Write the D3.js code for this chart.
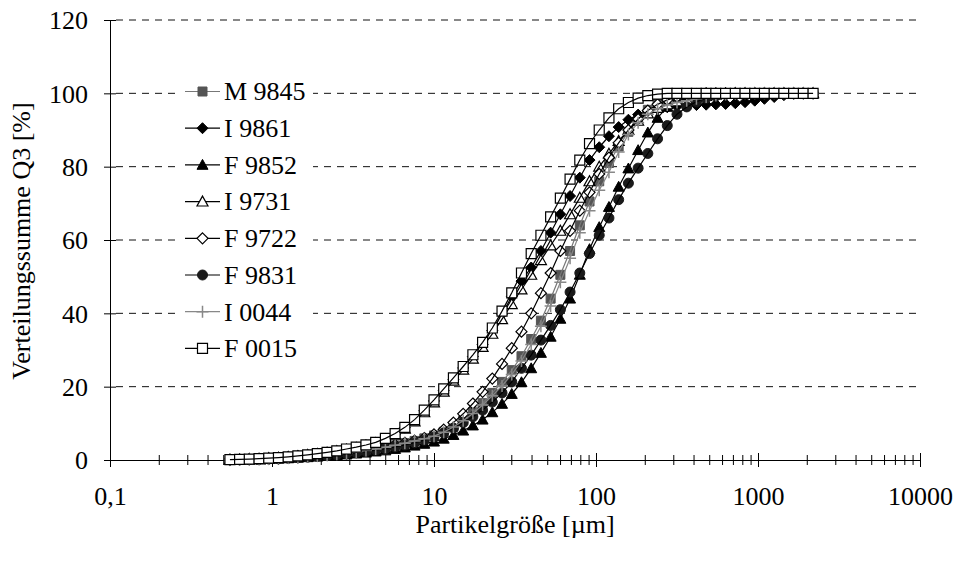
<!DOCTYPE html>
<html>
<head>
<meta charset="utf-8">
<script src="https://cdn.jsdelivr.net/npm/d3@7/dist/d3.min.js"></script>
<style>
  body { margin: 0; background: #fff; }
  svg text { font-family: "Liberation Serif", "Times New Roman", serif; font-size: 26px; fill: #000; }
</style>
</head>
<body>
<div id="chart"></div>
<script>
// particle size classes [µm]
var sizes = [0.550, 0.631, 0.724, 0.832, 0.955, 1.096, 1.259, 1.445, 1.660, 1.905,
  2.188, 2.512, 2.884, 3.311, 3.802, 4.365, 5.012, 5.754, 6.607, 7.586,
  8.710, 10.00, 11.48, 13.18, 15.14, 17.38, 19.95, 22.91, 26.30, 30.20,
  34.67, 39.81, 45.71, 52.48, 60.26, 69.18, 79.43, 91.20, 104.7, 120.2,
  138.0, 158.5, 182.0, 208.9, 239.9, 275.4, 316.2, 363.1, 416.9, 478.6,
  549.5, 631.0, 724.4, 831.8, 955.0, 1096, 1259, 1445, 1660, 1905, 2188];

var seriesNames = ["M 9845", "I 9861", "F 9852", "I 9731", "F 9722", "F 9831", "I 0044", "F 0015"];

var qM9845 = [0.05, 0.1, 0.15, 0.2, 0.3, 0.4, 0.55, 0.7, 0.9, 1.1,
  1.35, 1.6, 1.9, 2.2, 2.6, 3.0, 3.5, 4.0, 4.6, 5.2,
  5.9, 6.7, 7.7, 9.0, 10.8, 13.0, 15.5, 18.3, 21.3, 24.5,
  28.3, 33.0, 38.0, 44.0, 50.5, 57.0, 64.0, 70.5, 76.0, 81.0,
  85.5, 89.5, 93.0, 95.5, 97.3, 98.5, 99.3, 99.7, 100, 100,
  100, 100, 100, 100, 100, 100, 100, 100, 100, 100, 100];
var qI9861 = [0.1, 0.15, 0.25, 0.35, 0.5, 0.65, 0.85, 1.1, 1.4, 1.7,
  2.0, 2.4, 2.9, 3.4, 4.0, 4.7, 5.8, 7.1, 8.8, 10.9,
  13.4, 16.1, 19.0, 22.0, 25.1, 28.2, 31.5, 35.3, 39.8, 44.6,
  48.8, 52.5, 57.0, 62.0, 67.0, 72.0, 77.0, 81.8, 85.3, 88.3,
  90.8, 92.8, 94.2, 95.2, 95.8, 96.2, 96.5, 96.7, 96.8, 96.9,
  97.0, 97.1, 97.3, 97.6, 98.0, 98.5, 99.0, 99.5, 99.9, 100, 100];
var qF9852 = [0.04, 0.08, 0.12, 0.17, 0.25, 0.35, 0.45, 0.6, 0.75, 0.9,
  1.1, 1.3, 1.5, 1.75, 2.0, 2.3, 2.6, 3.0, 3.4, 3.9,
  4.4, 5.0, 5.8, 6.8, 8.0, 9.4, 11.0, 13.0, 15.3, 18.0,
  21.2, 25.0, 29.2, 33.6, 38.5, 44.0, 50.5, 57.5, 63.5, 69.0,
  74.5, 79.5, 84.5, 89.3, 93.3, 96.3, 98.2, 99.2, 99.7, 100,
  100, 100, 100, 100, 100, 100, 100, 100, 100, 100, 100];
var qI9731 = [0.1, 0.15, 0.25, 0.35, 0.45, 0.6, 0.8, 1.05, 1.35, 1.65,
  2.0, 2.4, 2.8, 3.3, 3.9, 4.6, 5.6, 6.9, 8.5, 10.5,
  13.0, 15.7, 18.6, 21.6, 24.6, 27.6, 30.8, 34.4, 38.4, 42.5,
  46.5, 50.5, 54.5, 58.5, 62.5, 67.0, 71.5, 76.0, 80.0, 83.5,
  87.0, 90.0, 92.5, 94.5, 96.0, 97.0, 97.8, 98.4, 98.9, 99.3,
  99.6, 99.9, 100, 100, 100, 100, 100, 100, 100, 100, 100];
var qF9722 = [0.05, 0.1, 0.15, 0.2, 0.3, 0.4, 0.55, 0.7, 0.9, 1.1,
  1.35, 1.6, 1.9, 2.25, 2.65, 3.1, 3.6, 4.1, 4.7, 5.3,
  6.0, 7.0, 8.3, 10.2, 12.6, 15.4, 18.6, 22.2, 26.2, 30.5,
  35.0, 40.0, 45.5, 51.0, 57.0, 62.5, 68.0, 73.0, 78.0, 82.5,
  86.5, 90.0, 93.0, 95.3, 97.0, 98.2, 99.0, 99.5, 99.8, 100,
  100, 100, 100, 100, 100, 100, 100, 100, 100, 100, 100];
var qF9831 = [0.05, 0.1, 0.15, 0.2, 0.3, 0.4, 0.5, 0.65, 0.8, 1.0,
  1.2, 1.45, 1.7, 2.0, 2.3, 2.7, 3.1, 3.6, 4.1, 4.7,
  5.4, 6.3, 7.4, 8.7, 10.2, 11.8, 13.6, 15.8, 18.3, 21.3,
  25.0, 28.6, 32.7, 36.7, 41.0, 45.8, 51.0, 56.3, 61.3, 66.0,
  71.0, 75.5, 79.6, 83.6, 87.6, 91.2, 94.3, 96.3, 97.7, 98.7,
  99.3, 99.7, 100, 100, 100, 100, 100, 100, 100, 100, 100];
var qI0044 = [0.05, 0.1, 0.15, 0.2, 0.3, 0.4, 0.55, 0.7, 0.9, 1.1,
  1.35, 1.6, 1.9, 2.2, 2.6, 3.0, 3.5, 4.0, 4.6, 5.2,
  5.8, 6.5, 7.6, 9.0, 10.7, 12.7, 15.0, 17.5, 20.2, 23.3,
  27.0, 31.5, 36.5, 42.0, 48.5, 55.0, 62.0, 68.0, 73.6, 78.5,
  84.0, 88.8, 92.0, 94.3, 95.8, 96.8, 97.5, 98.0, 98.5, 99.0,
  99.4, 99.7, 99.9, 100, 100, 100, 100, 100, 100, 100, 100];
var qF0015 = [0.1, 0.15, 0.25, 0.35, 0.5, 0.65, 0.85, 1.1, 1.4, 1.75,
  2.1, 2.5, 3.0, 3.5, 4.1, 4.8, 5.9, 7.2, 8.9, 11.0,
  13.6, 16.4, 19.4, 22.4, 25.5, 28.7, 32.1, 36.0, 40.6, 45.6,
  51.0, 56.3, 61.3, 66.3, 71.4, 76.6, 81.8, 86.3, 90.0, 93.3,
  95.8, 97.5, 98.7, 99.4, 99.8, 100, 100, 100, 100, 100,
  100, 100, 100, 100, 100, 100, 100, 100, 100, 100, 100];

var xTickValues = [0.1, 1, 10, 100, 1000, 10000];
var xTickLabels = ["0,1", "1", "10", "100", "1000", "10000"];
var yTickValues = [0, 20, 40, 60, 80, 100, 120];

(function () {
  var width = 957, height = 563;
  var margin = { left: 110, right: 920, top: 20, bottom: 460 };

  var svg = d3.select("#chart").append("svg")
    .attr("width", width)
    .attr("height", height);

  var x = d3.scaleLog().domain([0.1, 10000]).range([margin.left, margin.right]);
  var y = d3.scaleLinear().domain([0, 120]).range([margin.bottom, margin.top]);

  // marker shapes
  var markers = {
    square: function (s) { return "M" + (-s) + "," + (-s) + "h" + (2 * s) + "v" + (2 * s) + "h" + (-2 * s) + "z"; },
    diamond: function (s) { return "M0," + (-s) + "L" + s + ",0L0," + s + "L" + (-s) + ",0Z"; },
    triangle: function (s) { return "M0," + (-s) + "L" + s + "," + (s * 0.8) + "L" + (-s) + "," + (s * 0.8) + "Z"; },
    circle: function (s) { return d3.symbol().type(d3.symbolCircle).size(Math.PI * s * s)(); },
    plus: function (s) { return "M" + (-s) + ",0H" + s + "M0," + (-s) + "V" + s; }
  };

  var series = [
    { name: seriesNames[0], values: qM9845, shape: "square", size: 4.5, fill: "#555", stroke: "#555", sw: 1, line: "#777" },
    { name: seriesNames[1], values: qI9861, shape: "diamond", size: 5.5, fill: "#000", stroke: "#000", sw: 1, line: "#000" },
    { name: seriesNames[2], values: qF9852, shape: "triangle", size: 5.5, fill: "#000", stroke: "#000", sw: 1, line: "#000" },
    { name: seriesNames[3], values: qI9731, shape: "triangle", size: 5.5, fill: "#fff", stroke: "#000", sw: 1.2, line: "#000" },
    { name: seriesNames[4], values: qF9722, shape: "diamond", size: 5.5, fill: "#fff", stroke: "#000", sw: 1.2, line: "#000" },
    { name: seriesNames[5], values: qF9831, shape: "circle", size: 5, fill: "#1a1a1a", stroke: "#1a1a1a", sw: 1, line: "#000" },
    { name: seriesNames[6], values: qI0044, shape: "plus", size: 6, fill: "none", stroke: "#888", sw: 1.5, line: "#888" },
    { name: seriesNames[7], values: qF0015, shape: "square", size: 5, fill: "#fff", stroke: "#000", sw: 1.2, line: "#000" }
  ];

  // gridlines
  svg.append("g")
    .selectAll("line")
    .data(yTickValues.filter(function (v) { return v > 0; }))
    .enter().append("line")
    .attr("x1", margin.left + 6).attr("x2", margin.right)
    .attr("y1", function (d) { return y(d); })
    .attr("y2", function (d) { return y(d); })
    .attr("stroke", "#111")
    .attr("stroke-width", 1)
    .attr("stroke-dasharray", "7,6");

  // y axis
  var yAxis = svg.append("g")
    .attr("transform", "translate(" + margin.left + ",0)")
    .call(d3.axisLeft(y).tickValues(yTickValues).tickSize(6).tickPadding(16).tickFormat(d3.format("d")));
  yAxis.select(".domain").attr("stroke", "#000");
  yAxis.selectAll(".tick line").attr("x1", 6).attr("stroke", "#000");
  yAxis.selectAll(".tick text").attr("font-size", 26).attr("font-family", null).attr("dy", "0.34em");

  // x axis: minor ticks
  var minor = [];
  for (var p = -1; p < 4; p++) {
    for (var m = 2; m <= 9; m++) minor.push(m * Math.pow(10, p));
  }
  var xMinor = svg.append("g")
    .attr("transform", "translate(0," + margin.bottom + ")")
    .call(d3.axisBottom(x).tickValues(minor).tickSize(6).tickFormat(""));
  xMinor.select(".domain").remove();
  xMinor.selectAll(".tick line").attr("y1", -5).attr("y2", 5).attr("stroke", "#000");

  var xAxis = svg.append("g")
    .attr("transform", "translate(0," + margin.bottom + ")")
    .call(d3.axisBottom(x).tickValues(xTickValues).tickSize(7).tickPadding(20)
      .tickFormat(function (d, i) { return xTickLabels[i]; }));
  xAxis.select(".domain").attr("stroke", "#000");
  xAxis.selectAll(".tick line").attr("y1", -7).attr("y2", 7).attr("stroke", "#000");
  xAxis.selectAll(".tick text").attr("font-size", 26).attr("font-family", null);

  // series
  var line = d3.line()
    .x(function (d, i) { return x(sizes[i]); })
    .y(function (d) { return y(d); });

  var plot = svg.append("g");
  series.forEach(function (s) {
    var g = plot.append("g");
    g.selectAll("path.mk")
      .data(s.values)
      .enter().append("path")
      .attr("class", "mk")
      .attr("d", markers[s.shape](s.size))
      .attr("transform", function (d, i) { return "translate(" + x(sizes[i]) + "," + y(d) + ")"; })
      .attr("fill", s.fill)
      .attr("stroke", s.stroke)
      .attr("stroke-width", s.sw);
    g.append("path")
      .attr("d", line(s.values))
      .attr("fill", "none")
      .attr("stroke", s.line)
      .attr("stroke-width", 1.2);
  });

  // legend
  var legend = svg.append("g");
  legend.append("rect")
    .attr("x", 180).attr("y", 72)
    .attr("width", 133).attr("height", 294)
    .attr("fill", "#fff");
  var rows = legend.selectAll("g.row")
    .data(series)
    .enter().append("g")
    .attr("class", "row")
    .attr("transform", function (d, i) { return "translate(0," + (91.5 + i * 36.7) + ")"; });
  rows.append("line")
    .attr("x1", 185).attr("x2", 220)
    .attr("stroke", function (d) { return d.line; })
    .attr("stroke-width", 1.2);
  rows.append("path")
    .attr("d", function (d) { return markers[d.shape](d.size); })
    .attr("transform", "translate(202.5,0)")
    .attr("fill", function (d) { return d.fill; })
    .attr("stroke", function (d) { return d.stroke; })
    .attr("stroke-width", function (d) { return d.sw; });
  rows.append("text")
    .attr("x", 224)
    .attr("dy", "0.34em")
    .text(function (d) { return d.name; });

  // axis titles
  svg.append("text")
    .attr("x", 515)
    .attr("y", 533)
    .attr("text-anchor", "middle")
    .text("Partikelgröße [µm]");

  svg.append("text")
    .attr("transform", "translate(30,241) rotate(-90)")
    .attr("text-anchor", "middle")
    .text("Verteilungssumme Q3 [%]");
})();
</script>
</body>
</html>
